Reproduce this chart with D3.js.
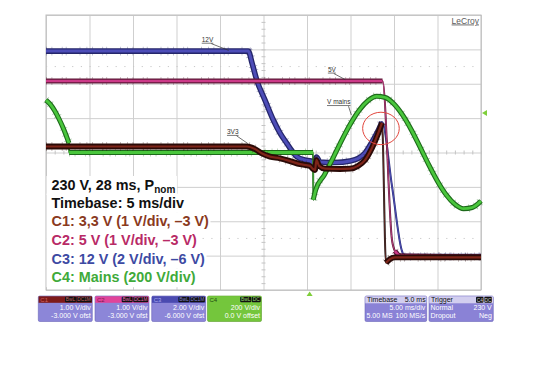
<!DOCTYPE html>
<html><head><meta charset="utf-8">
<script src="https://cdn.jsdelivr.net/npm/d3@7"></script>
<style>
html,body{margin:0;padding:0;background:#fff;}
svg{display:block;}
</style></head>
<body>
<svg id="chart" width="540" height="382"></svg>
<script>
// ---------- data (time in ms, values in volts) ----------
const tC1 = [0, 23.10, 24.02, 24.83, 25.75, 26.90, 28.05, 29.20, 30.34, 30.69, 30.92, 31.09, 31.38, 32.07, 33.79, 34.94, 35.86, 36.67, 37.47, 38.16, 38.62, 39.08, 39.54, 40.11, 50];
const vC1 = [3.175, 3.175, 3.10, 2.97, 2.88, 2.83, 2.75, 2.66, 2.61, 2.52, 2.49, 2.78, 2.61, 2.53, 2.52, 2.53, 2.61, 2.78, 3.13, 3.54, 3.86, -0.21, -0.10, -0.05, -0.05];
const tC2 = [0, 38.68, 39.77, 40.11, 40.69, 50];
const vC2 = [5.08, 5.08, 0.455, 0.135, 0.0, -0.03];
const tC3 = [0, 23.25, 23.68, 24.22, 25.17, 26.13, 26.90, 27.67, 28.28, 28.82, 29.77, 30.46, 30.69, 31.09, 31.49, 33.22, 34.94, 35.86, 36.67, 37.47, 38.16, 38.62, 39.77, 40.88, 41.21, 50];
const vC3 = [11.9, 11.9, 11.21, 10.22, 9.05, 7.89, 7.13, 6.54, 6.09, 5.76, 5.56, 5.51, 5.16, 5.74, 5.45, 5.42, 5.51, 5.65, 5.97, 6.61, 7.25, 7.77, 4.05, 0.33, -0.05, -0.05];
const tC4 = [0, 0.5, 1.0, 1.5, 2.0, 2.64, 2.66, 30.70, 30.72, 31, 32, 33, 34, 35, 36, 37, 38, 39, 40, 41, 42, 43, 44, 45, 46, 47, 48, 49, 50];
const vC4 = [305, 280, 243, 195, 140, 55, 0, 0, -275, -217, -130, -31, 72, 167, 246, 301, 327, 320, 282, 217, 131, 31, -72, -167, -246, -301, -327, -320, -282];

// channel settings (V/div, offset V)
const channelNames = ["C1", "C2", "C3", "C4"];
const voltsPerDiv = [1, 1, 2, 200];
const offsets = [-3, -3, -6, 0];
const thinRanges = [[[38.62, 39.08]], [[38.68, 40.11]], [[38.62, 41.21]], [[2.64, 2.66], [30.70, 30.72]]];

// text
const infoLines = ["230 V, 28 ms, P", "Timebase: 5 ms/div", "C1: 3,3 V (1 V/div, \u20133 V)", "C2: 5 V (1 V/div, \u20133 V)", "C3: 12 V (2 V/div, \u20136 V)", "C4: Mains (200 V/div)"];
const chanVdiv = ["1.00 V/div", "1.00 V/div", "2.00 V/div", "200 V/div"];
const chanOfst = ["-3.000 V ofst", "-3.000 V ofst", "-6.000 V ofst", "0.0 V offset"];
const chanCoupling = ["DC1M", "DC1M", "DC1M", "DC"];
const traceLabels = [
  {text: "12V", t: 17.9, d: 3.22, lt: 21.0, ld: 2.97},
  {text: "5V", t: 32.4, d: 2.35, lt: 34.4, ld: 2.12},
  {text: "V mains", t: 32.3, d: 1.40, lt: 35.1, ld: 1.09},
  {text: "3V3", t: 20.8, d: 0.54, lt: 23.2, ld: 0.26}
];

// ---------- layout ----------
const L = 46, R = 481, T = 15, B = 290;
const svg = d3.select("#chart");
const x = d3.scaleLinear().domain([0, 50]).range([L, R]);
const y = d3.scaleLinear().domain([-4, 4]).range([B, T]);
const xc = x(25), yc = y(0);

svg.append("rect").attr("width", 540).attr("height", 382).attr("fill", "#fff");

// grid via axes
const gx = svg.append("g").attr("transform", `translate(0,${B})`)
  .call(d3.axisBottom(x).tickValues(d3.range(0, 50.01, 5)).tickSize(-(B - T)).tickFormat(""));
const gy = svg.append("g").attr("transform", `translate(${L},0)`)
  .call(d3.axisLeft(y).tickValues(d3.range(-4, 4.01, 1)).tickSize(-(R - L)).tickFormat(""));
[gx, gy].forEach(g => { g.select(".domain").remove(); g.selectAll("line").attr("stroke", "#cfcfcf").attr("stroke-width", 1); });

// center minor ticks
const cx1 = svg.append("g").attr("transform", `translate(0,${yc - 2})`)
  .call(d3.axisBottom(x).tickValues(d3.range(0, 50.01, 1)).tickSize(4).tickFormat(""));
const cy1 = svg.append("g").attr("transform", `translate(${xc + 2},0)`)
  .call(d3.axisLeft(y).tickValues(d3.range(-4, 4.01, 0.2)).tickSize(4).tickFormat(""));
[cx1, cy1].forEach(g => { g.select(".domain").remove(); g.selectAll("line").attr("stroke", "#c4c4c4"); });

// dotted level lines
[2.5, -2.5].forEach(d => {
  svg.append("line").attr("x1", L).attr("x2", R).attr("y1", y(d)).attr("y2", y(d))
    .attr("stroke", "#c8c8c8").attr("stroke-width", 1).attr("stroke-dasharray", "1.2,7.5");
});

svg.append("rect").attr("x", L).attr("y", T).attr("width", R - L).attr("height", B - T)
  .attr("fill", "none").attr("stroke", "#bdbdbd").attr("stroke-width", 1);

// LeCroy mark
svg.append("text").attr("x", R - 2).attr("y", 23.5).attr("text-anchor", "end")
  .attr("font-family", "Liberation Sans, Arial, sans-serif").attr("font-size", 8.5)
  .attr("fill", "#5a5a5a").attr("text-decoration", "underline").text("LeCroy");

// ---------- traces ----------
const series = [
  {t: tC3, v: vC3, ch: 2, dark: "#25266a", light: "#4d4db8", wo: 5.6, wi: 3.0, thinDark: "#2d2f7a", thinLight: "#5555c0"},
  {t: tC2, v: vC2, ch: 1, dark: "#5a1635", light: "#cc3a88", wo: 5.0, wi: 2.6, thinDark: "#5a1635", thinLight: "#d04d92"},
  {t: tC4, v: vC4, ch: 3, dark: "#1d6a1a", light: "#49c63c", wo: 5.0, wi: 2.8, thinDark: "#2a6a25", thinLight: "#4cc040"},
  {t: tC1, v: vC1, ch: 0, dark: "#2a0a07", light: "#7e2519", wo: 5.8, wi: 2.2, thinDark: "#222", thinLight: "#6b2a22"}
];

const line = d3.line().x(d => x(d.t)).y(d => y(d.d)).curve(d3.curveMonotoneX);

series.forEach(s => {
  const pts = s.t.map((t, i) => ({t, d: (s.v[i] + offsets[s.ch]) / voltsPerDiv[s.ch]}));
  const ranges = thinRanges[s.ch];
  const isThin = (a, b) => ranges.some(r => a.t >= r[0] - 1e-9 && b.t <= r[1] + 1e-9);
  const runs = [];
  let cur = [pts[0]];
  for (let i = 1; i < pts.length; i++) {
    if (isThin(pts[i - 1], pts[i])) {
      if (cur.length > 1) runs.push(cur);
      cur = [pts[i]];
    } else cur.push(pts[i]);
  }
  if (cur.length > 1) runs.push(cur);

  const g = svg.append("g");
  g.append("path").attr("d", line(pts)).attr("fill", "none").attr("stroke", s.thinDark).attr("stroke-width", 2.0);
  g.append("path").attr("d", line(pts)).attr("fill", "none").attr("stroke", s.thinLight).attr("stroke-width", 0.8);
  runs.forEach(run => {
    g.append("path").attr("d", line(run)).attr("fill", "none").attr("stroke", s.dark)
      .attr("stroke-width", s.wo + 3).attr("stroke-dasharray", "0.8,4.7,0.8,9.5,0.8,3.2,0.8,13,0.8,6.1")
      .attr("opacity", 0.35);
    g.append("path").attr("d", line(run)).attr("fill", "none").attr("stroke", s.dark)
      .attr("stroke-width", s.wo).attr("stroke-linejoin", "round");
    g.append("path").attr("d", line(run)).attr("fill", "none").attr("stroke", s.light)
      .attr("stroke-width", s.wi).attr("stroke-linejoin", "round");
  });
});

// trace labels
traceLabels.forEach(lb => {
  const tx = svg.append("text").attr("x", x(lb.t)).attr("y", y(lb.d))
    .attr("font-family", "Liberation Sans, Arial, sans-serif").attr("font-size", 6.5)
    .attr("fill", "#333").attr("text-decoration", "underline").text(lb.text);
  const w = tx.node().getComputedTextLength();
  svg.append("line").attr("x1", x(lb.t) + w - 2).attr("y1", y(lb.d) + 1.8)
    .attr("x2", x(lb.lt)).attr("y2", y(lb.ld)).attr("stroke", "#333").attr("stroke-width", 0.7);
});

// red ellipse
svg.append("ellipse").attr("cx", x(38.5)).attr("cy", y(0.70)).attr("rx", 18.3).attr("ry", 16.2)
  .attr("fill", "none").attr("stroke", "#e2463d").attr("stroke-width", 1);

// trigger markers
svg.append("path").attr("d", `M${R + 1},${y(1.15)} l5,-3 v6 z`).attr("fill", "#7fcf3a");
svg.append("path").attr("d", `M${x(30.3)},${B + 1.5} l-3,4.5 h6 z`).attr("fill", "#7fcf3a");

// ---------- info text block ----------
const lineColors = ["#111", "#111", "#8a3a1e", "#b82a66", "#3d4aa3", "#3faa3a"];
const baselines = [190, 207.7, 226.3, 245, 263.7, 282.4];
const info = svg.append("g").attr("font-family", "Liberation Sans, Arial, sans-serif")
  .attr("font-weight", "bold").attr("font-size", 14.4);
infoLines.forEach((s, i) => {
  const bg = info.append("rect").attr("x", L + 0.5).attr("y", baselines[i] - 14).attr("height", 18.8).attr("fill", "#fff");
  const tx = info.append("text").attr("x", 51.5).attr("y", baselines[i]).attr("fill", lineColors[i]);
  tx.append("tspan").text(s);
  if (i === 0) tx.append("tspan").attr("dy", 3).attr("font-size", 10).text("nom");
  const w = tx.node().getBBox().width;
  bg.attr("width", w + 6.5);
});

// ---------- channel boxes ----------
const boxX = [38.3, 95, 151.7, 207.5];
const boxW = 54;
const headColors = ["#7d1a1a", "#e0449a", "#4a4ab0", "#74c63c"];
const labColors = ["#d06060", "#7a1850", "#a8a8f0", "#1e4a10"];
const bodyColors = ["#8c86d8", "#8c86d8", "#8c86d8", "#74c63c"];
const font = "Liberation Sans, Arial, sans-serif";
const by = 296, bh = 25.5, hh = 6.5;
channelNames.forEach((c, i) => {
  const g = svg.append("g").attr("font-family", font);
  g.append("rect").attr("x", boxX[i]).attr("y", by).attr("width", boxW).attr("height", bh).attr("rx", 1.5)
    .attr("fill", bodyColors[i]).attr("stroke", i === 3 ? "#5aa02a" : "#6a64b8").attr("stroke-width", 0.6);
  g.append("rect").attr("x", boxX[i] + 0.3).attr("y", by + 0.3).attr("width", boxW - 0.6).attr("height", hh).attr("fill", headColors[i]);
  g.append("text").attr("x", boxX[i] + 2).attr("y", by + 5.6).attr("font-size", 6).attr("fill", labColors[i]).text(c);
  const cw = chanCoupling[i] === "DC" ? 9 : 15;
  const bx2 = boxX[i] + boxW - 0.8 - cw;
  const bx1 = bx2 - 11.5;
  g.append("rect").attr("x", bx1).attr("y", by + 0.8).attr("width", 11).attr("height", hh - 1).attr("rx", 1).attr("fill", "#111");
  g.append("rect").attr("x", bx2).attr("y", by + 0.8).attr("width", cw).attr("height", hh - 1).attr("rx", 1).attr("fill", "#111");
  const badgeCol = i === 3 ? "#9adc70" : (i === 0 ? "#c06060" : (i === 1 ? "#e070b0" : "#8080d0"));
  g.append("text").attr("x", bx1 + 5.5).attr("y", by + 5.3).attr("text-anchor", "middle").attr("font-size", 4.8).attr("fill", badgeCol).text("BwL");
  g.append("text").attr("x", bx2 + cw / 2).attr("y", by + 5.3).attr("text-anchor", "middle").attr("font-size", 4.8).attr("fill", badgeCol).text(chanCoupling[i]);
  g.append("text").attr("x", boxX[i] + boxW - 1.5).attr("y", by + 14.3).attr("text-anchor", "end").attr("font-size", 7).attr("fill", "#fff").text(chanVdiv[i]);
  g.append("text").attr("x", boxX[i] + boxW - 1.5).attr("y", by + 22).attr("text-anchor", "end").attr("font-size", 7).attr("fill", "#fff").text(chanOfst[i]);
});

// timebase / trigger boxes
const tbRows = [["", "5.00 ms/div"], ["5.00 MS", "100 MS/s"]];
const trRows = [["Normal", "230 V"], ["Dropout", "Neg"]];
function infoBox(x0, w, title, right, rows, badges) {
  const g = svg.append("g").attr("font-family", font);
  g.append("rect").attr("x", x0).attr("y", by).attr("width", w).attr("height", bh).attr("rx", 1.5)
    .attr("fill", "#8a82d6").attr("stroke", "#6a64b8").attr("stroke-width", 0.6);
  g.append("rect").attr("x", x0 + 0.3).attr("y", by + 0.3).attr("width", w - 0.6).attr("height", hh + 0.5).attr("fill", "#d2ceef");
  g.append("text").attr("x", x0 + 2).attr("y", by + 6).attr("font-size", 7).attr("fill", "#111").text(title);
  if (right) g.append("text").attr("x", x0 + w - 1).attr("y", by + 6).attr("text-anchor", "end").attr("font-size", 7).attr("fill", "#111").text(right);
  if (badges) {
    let bx = x0 + w - 1 - 8;
    badges.slice().reverse().forEach(b => {
      g.append("rect").attr("x", bx).attr("y", by + 0.8).attr("width", 7.5).attr("height", hh - 0.6).attr("rx", 1).attr("fill", "#111");
      g.append("text").attr("x", bx + 3.75).attr("y", by + 5.5).attr("text-anchor", "middle").attr("font-size", 4.8).attr("fill", "#cfcfcf").text(b);
      bx -= 8.3;
    });
  }
  rows.forEach((r, i) => {
    const yy = by + 14.3 + i * 7.7;
    if (r[0]) g.append("text").attr("x", x0 + 1.5).attr("y", yy).attr("font-size", 7).attr("fill", "#fff").text(r[0]);
    g.append("text").attr("x", x0 + w - 1.5).attr("y", yy).attr("text-anchor", "end").attr("font-size", 7).attr("fill", "#fff").text(r[1]);
  });
}
infoBox(365, 61.7, "Timebase", "5.0 ms", tbRows, null);
infoBox(429, 64.3, "Trigger", null, trRows, ["C4", "DC"]);
</script>
</body></html>
